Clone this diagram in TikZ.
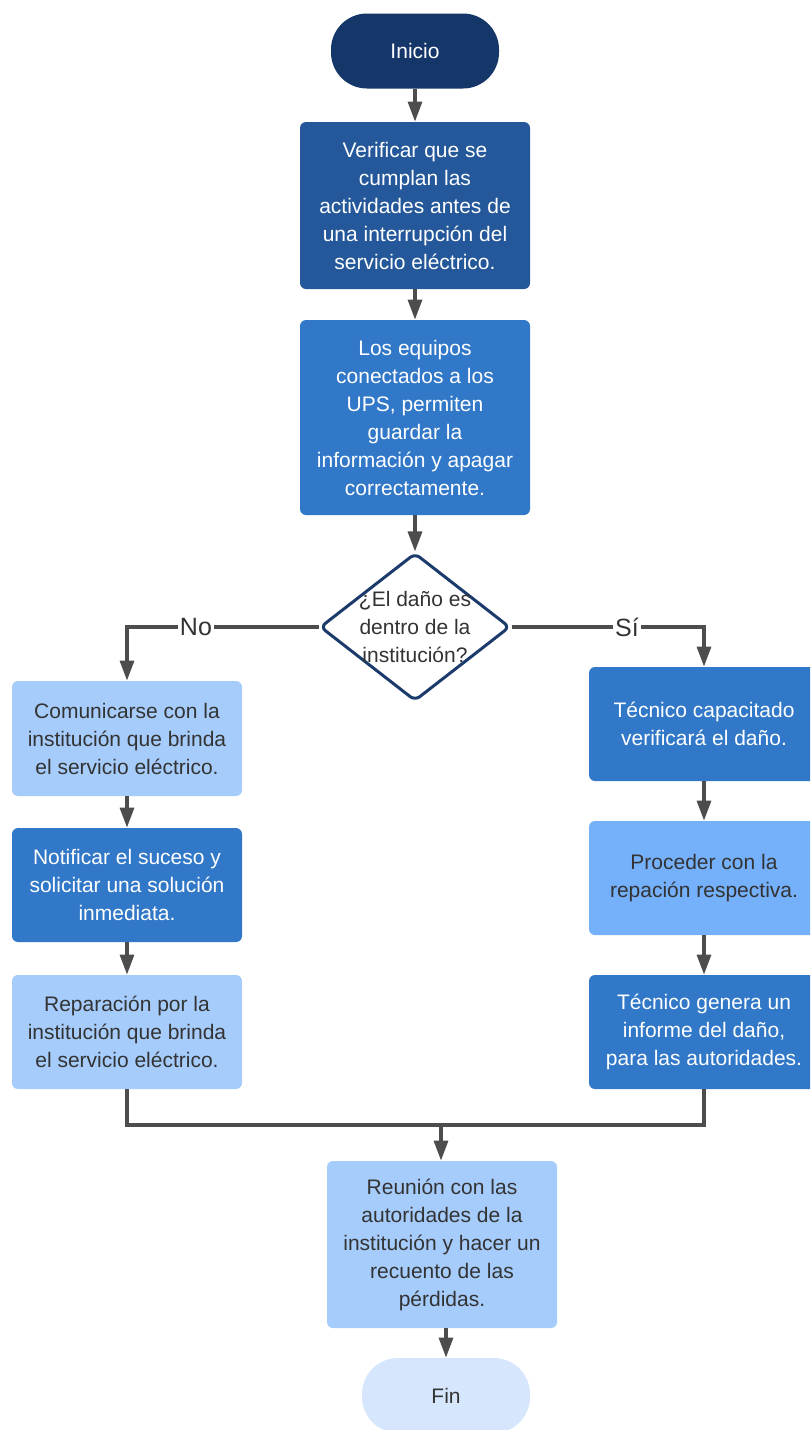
\documentclass[tikz,border=0pt]{standalone}
\usepackage{fontspec}
\setmainfont{Liberation Sans}
\usetikzlibrary{arrows.meta, shapes.geometric}

\definecolor{navy}{RGB}{21,54,104}
\definecolor{blueA}{RGB}{36,88,154}
\definecolor{blueB}{RGB}{49,120,200}
\definecolor{blueC}{RGB}{117,176,250}
\definecolor{blueD}{RGB}{166,204,252}
\definecolor{blueE}{RGB}{214,231,253}
\definecolor{edge}{RGB}{28,59,109}
\definecolor{wire}{RGB}{77,77,77}
\definecolor{ink}{RGB}{51,51,51}

\begin{document}
\begin{tikzpicture}[x=0.5pt, y=-0.5pt, >={Triangle[width=7pt, length=10pt]},
    font=\fontsize{10.5}{14}\selectfont,
    box/.style={rectangle, rounded corners=3pt, align=center, minimum width=115pt, inner sep=0pt},
    term/.style={rectangle, rounded corners=18pt, minimum width=84pt, minimum height=37.5pt},
    dark/.style={text=white},
    light/.style={text=ink},
    decision/.style={diamond, draw=edge, line width=1.5pt, fill=white, rounded corners=3pt,
        minimum width=95pt, minimum height=74pt, inner sep=0pt},
    link/.style={wire, line width=1.6pt},
    tag/.style={fill=white, inner sep=1pt, text=ink, font=\fontsize{12.5}{14}\selectfont}]

    % Hoja completa
    \useasboundingbox (0,0) rectangle (810,1430);
    \clip (0,0) rectangle (810,1430);

    % Inicio y pasos previos
    \node[term, fill=navy, dark] (inicio) at (415,51) {Inicio};
    \node[box, fill=blueA, dark, minimum height=83.5pt] (verificar) at (415,205.5)
        {Verificar que se\\cumplan las\\actividades antes de\\una interrupción del\\servicio eléctrico.};
    \node[box, fill=blueB, dark, minimum height=97.5pt] (equipos) at (415,417.5)
        {Los equipos\\conectados a los\\UPS, permiten\\guardar la\\información y apagar\\correctamente.};

    % Decisión
    \node[decision] (dano) at (415,627) {};
    \node[light, align=center] (danotxt) at (dano) {¿El daño es\\dentro de la\\institución?};

    % Rama No
    \node[box, fill=blueD, light, minimum height=57.5pt] (comunicar) at (127,738.5)
        {Comunicarse con la\\institución que brinda\\el servicio eléctrico.};
    \node[box, fill=blueB, dark, minimum height=57pt] (notificar) at (127,885)
        {Notificar el suceso y\\solicitar una solución\\inmediata.};
    \node[box, fill=blueD, light, minimum height=57pt] (reparacion) at (127,1032)
        {Reparación por la\\institución que brinda\\el servicio eléctrico.};

    % Rama Sí
    \node[box, fill=blueB, dark, minimum height=57pt] (tecnico) at (704,724)
        {Técnico capacitado\\verificará el daño.};
    \node[box, fill=blueC, light, minimum height=57pt] (proceder) at (704,878)
        {Proceder con la\\repación respectiva.};
    \node[box, fill=blueB, dark, minimum height=57pt] (informe) at (704,1032)
        {Técnico genera un\\informe del daño,\\para las autoridades.};

    % Cierre
    \node[box, fill=blueD, light, minimum height=83.5pt] (reunion) at (442,1244.5)
        {Reunión con las\\autoridades de la\\institución y hacer un\\recuento de las\\pérdidas.};
    \node[term, fill=blueE, light] (fin) at (446,1395.5) {Fin};

    % Conectores
    \draw[link, ->] (inicio) -- (verificar);
    \draw[link, ->] (verificar) -- (equipos);
    \draw[link, ->] (equipos) -- (dano);
    \draw[link, ->] (dano.west) -| node[tag, pos=0.32] {No} (comunicar.north);
    \draw[link, ->] (dano.east) -| node[tag, pos=0.3] {Sí} (tecnico.north);
    \draw[link, ->] (comunicar) -- (notificar);
    \draw[link, ->] (notificar) -- (reparacion);
    \draw[link, ->] (tecnico) -- (proceder);
    \draw[link, ->] (proceder) -- (informe);

    \coordinate (union) at (441,1125);
    \draw[link] (reparacion.south) |- (union);
    \draw[link] (informe.south) |- (union);
    \draw[link, ->] (union) -- (union |- reunion.north);
    \draw[link, ->] (reunion.south -| fin) -- (fin);

\end{tikzpicture}
\end{document}
